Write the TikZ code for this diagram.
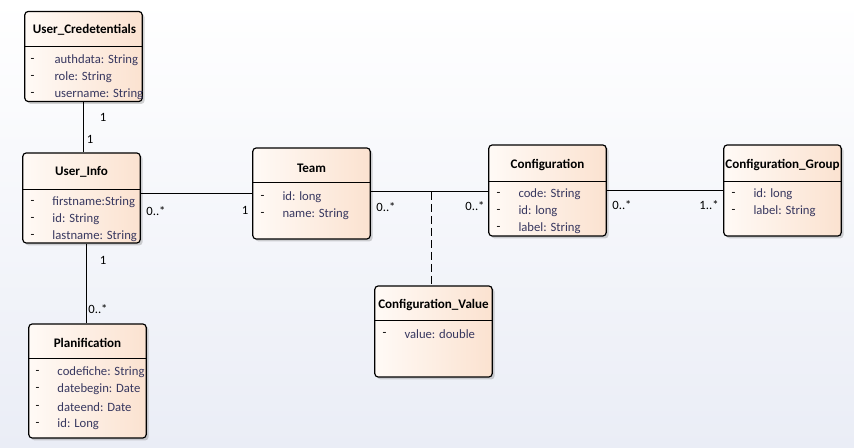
\documentclass[tikz,border=0pt]{standalone}
\usepackage{fontspec}
\setmainfont{Carlito}
\usetikzlibrary{shadows}

\definecolor{classpeach}{RGB}{251,226,208}
\definecolor{classlight}{RGB}{255,250,246}
\definecolor{attrtext}{RGB}{55,55,95}
\definecolor{bgbottom}{RGB}{234,237,246}

\tikzset{every picture/.style={line width=0.75pt}}
\tikzset{
  classbox/.style={draw, rounded corners=2.5pt, left color=classlight, right color=classpeach,
    minimum width=88pt, inner sep=0pt, line width=0.9pt,
    drop shadow={shadow xshift=1.8pt, shadow yshift=-1.8pt, opacity=0.35}},
  classtitle/.style={font=\bfseries\fontsize{9.8}{11}\selectfont, inner sep=0.75pt},
  attr/.style={anchor=west, inner sep=0.75pt, font=\fontsize{9.5}{11}\selectfont, text=attrtext},
  dashmark/.style={anchor=west, inner sep=0.75pt, font=\fontsize{9.5}{11}\selectfont},
  mult/.style={inner sep=0.75pt, font=\fontsize{9.5}{11}\selectfont},
}

\begin{document}
\begin{tikzpicture}[x=0.75pt,y=0.75pt,yscale=-1,xscale=1]
%background
\shade [top color=white, bottom color=bgbottom] (0,0) rectangle (854,448);
\useasboundingbox (0,0) rectangle (854,448);

%Class boxes
\node [classbox, minimum height=67.5pt] (ucred) at (83.5,56.5) {};
\node [classbox, minimum height=67.5pt] (uinfo) at (81.5,198) {};
\node [classbox, minimum height=85.5pt] (planif) at (87.5,381) {};
\node [classbox, minimum height=68.25pt] (team) at (311.5,193.5) {};
\node [classbox, minimum height=68.25pt] (config) at (547.5,190.5) {};
\node [classbox, minimum height=68.25pt] (cgroup) at (782.5,190.5) {};
\node [classbox, minimum height=68.25pt] (cvalue) at (433.5,331.5) {};

%Separators
\draw (ucred.west |- 0,47) -- (ucred.east |- 0,47);
\draw (uinfo.west |- 0,190) -- (uinfo.east |- 0,190);
\draw (planif.west |- 0,359) -- (planif.east |- 0,359);
\draw (team.west |- 0,183) -- (team.east |- 0,183);
\draw (config.west |- 0,182) -- (config.east |- 0,182);
\draw (cgroup.west |- 0,182) -- (cgroup.east |- 0,182);
\draw (cvalue.west |- 0,321) -- (cvalue.east |- 0,321);

%Titles
\node [classtitle] (ucredT) at (84.5,30) {User\_Credetentials};
\node [classtitle] (uinfoT) at (81.5,172) {User\_Info};
\node [classtitle] (planifT) at (87.5,343) {Planification};
\node [classtitle] (teamT) at (311.5,168) {Team};
\node [classtitle] (configT) at (547.5,165) {Configuration};
\node [classtitle] (cgroupT) at (782.5,165) {Configuration\_Group};
\node [classtitle] (cvalueT) at (433.5,305) {Configuration\_Value};

%Attributes
\foreach \yy/\txt [count=\i] in {60/authdata: String, 77/role: String, 94/username: String}{
  \node [dashmark] (ucredD\i) at (29,\yy) {-};
  \node [attr] (ucredA\i) at (53,\yy) {\txt};
}
\foreach \yy/\txt [count=\i] in {202/firstname:String, 219/id: String, 236/lastname: String}{
  \node [dashmark] (uinfoD\i) at (29,\yy) {-};
  \node [attr] (uinfoA\i) at (51,\yy) {\txt};
}
\foreach \yy/\txt [count=\i] in {372/codefiche: String, 389/datebegin: Date, 407/dateend: Date, 424/id: Long}{
  \node [dashmark] (planifD\i) at (34,\yy) {-};
  \node [attr] (planifA\i) at (56,\yy) {\txt};
}
\foreach \yy/\txt [count=\i] in {197/id: long, 214/name: String}{
  \node [dashmark] (teamD\i) at (259,\yy) {-};
  \node [attr] (teamA\i) at (281,\yy) {\txt};
}
\foreach \yy/\txt [count=\i] in {194/code: String, 211/id: long, 228/label: String}{
  \node [dashmark] (configD\i) at (495,\yy) {-};
  \node [attr] (configA\i) at (517,\yy) {\txt};
}
\foreach \yy/\txt [count=\i] in {194/id: long, 211/label: String}{
  \node [dashmark] (cgroupD\i) at (730,\yy) {-};
  \node [attr] (cgroupA\i) at (752,\yy) {\txt};
}
\node [dashmark] (cvalueD1) at (381,334) {-};
\node [attr] (cvalueA1) at (403,334) {value: double};

%Associations
\coordinate (assoc) at (431,192);
\draw (ucred.south) -- (ucred.south |- uinfo.north);
\draw (uinfo.east |- team.west) -- (team.west);
\draw ([xshift=3.5]uinfo.south) -- ([xshift=3.5]uinfo.south |- planif.north);
\draw (team.east |- assoc) -- (config.west |- assoc);
\draw (config.east) -- (cgroup.west);
\draw [dashed, dash pattern=on 6pt off 3pt] (assoc) -- (assoc |- cvalue.north);

%Multiplicities
\node [mult] (m1) at (103,117) {1};
\node [mult] (m2) at (90,139) {1};
\node [mult] (m3) at (156,211) {0..*};
\node [mult] (m4) at (245,210) {1};
\node [mult] (m5) at (103,260) {1};
\node [mult] (m6) at (98,309) {0..*};
\node [mult] (m7) at (386,207) {0..*};
\node [mult] (m8) at (475,206) {0..*};
\node [mult] (m9) at (622,205) {0..*};
\node [mult] (m10) at (709,205) {1..*};

\end{tikzpicture}
\end{document}
